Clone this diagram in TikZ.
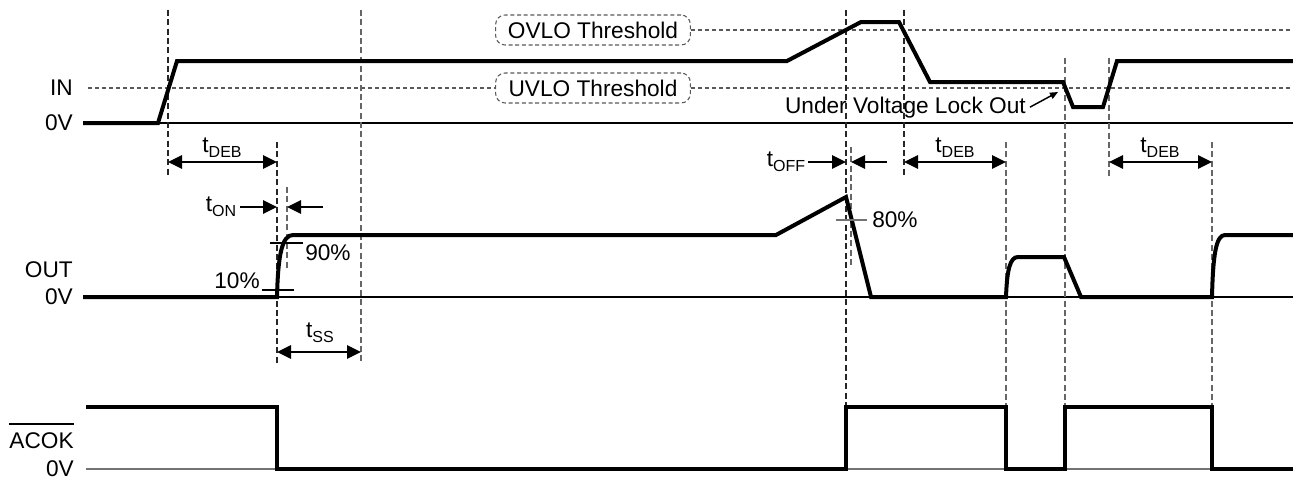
\documentclass[tikz,border=0pt]{standalone}
\usepackage{fontspec}
\setmainfont{Liberation Sans}
\usetikzlibrary{arrows.meta}
\newcommand{\lsub}[1]{\raisebox{-0.22em}{\fontsize{12}{12}\selectfont #1}}
\begin{document}
\begin{tikzpicture}[x=0.75pt,y=-0.75pt,
  font=\fontsize{17}{20}\selectfont,
  sig/.style={line width=3pt},
  baseline/.style={line width=0.9pt},
  vdash/.style={dash pattern=on 4.5pt off 2.5pt, line width=0.85pt, black!85},
  vgray/.style={dash pattern=on 4.5pt off 2.5pt, line width=0.85pt, black!60},
  hdash/.style={dash pattern=on 3pt off 2.25pt, line width=0.8pt, black!65},
  dimarrow/.style={line width=1.5pt, {Triangle[length=10.5pt,width=10pt]}-{Triangle[length=10.5pt,width=10pt]}},
  onearrow/.style={line width=1.5pt, -{Triangle[length=10.5pt,width=10pt]}},
  lbl/.style={inner sep=0pt},
  thr/.style={draw=black!65, dash pattern=on 3pt off 2pt, line width=0.8pt, rounded corners=7pt,
    minimum width=146pt, minimum height=22.5pt, inner sep=0pt},
  tick/.style={line width=0.9pt}]
\useasboundingbox (0,0) rectangle (1293,479);

% ---- labels on the left
\node[lbl, anchor=east] (inlbl) at (73,88) {IN};
\node[lbl, anchor=east] (in0v) at (73,123) {0V};
\node[lbl, anchor=east] (outlbl) at (73,270) {OUT};
\node[lbl, anchor=east] (out0v) at (73,297) {0V};
\node[lbl, anchor=east] (acok) at (74,441) {ACOK};
\draw[line width=0.9pt] ([yshift=6.5pt]acok.north west) -- ([yshift=6.5pt]acok.north east);
\node[lbl, anchor=east] (acok0v) at (74,469) {0V};

% ---- threshold boxes and lines
\node[thr] (ovlo) at (593,30) {OVLO Threshold};
\node[thr] (uvlo) at (593,88) {UVLO Threshold};
\coordinate (ovloR) at (1293,30);
\coordinate (uvloL) at (88,88);
\coordinate (uvloR) at (1293,88);
\draw[hdash] (ovlo.east) -- (ovloR);
\draw[hdash] (uvloL) -- (uvlo.west);
\draw[hdash] (uvlo.east) -- (uvloR);

% ---- zero lines
\draw[baseline] (83,123) -- (1293,123);
\draw[baseline] (83,297) -- (1293,297);
\draw[baseline, black!55] (86,469) -- (1293,469);

% ---- vertical dashed markers
\draw[vdash] (168,10) -- (168,177);
\draw[vdash] (277,142) -- (277,363);
\draw[vgray] (287,187) -- (287,268);
\draw[vgray] (361,10) -- (361,362);
\draw[vdash] (846,10) -- (846,407);
\draw[vgray] (851,147) -- (851,268);
\draw[vdash] (904,10) -- (904,177);
\draw[vgray] (1006,142) -- (1006,407);
\draw[vgray] (1065,58) -- (1065,407);
\draw[vgray] (1109,58) -- (1109,177);
\draw[vgray] (1212,142) -- (1212,407);

% ---- IN waveform
\draw[sig] (83,123) -- (158,123) -- (177,61) -- (787,61) -- (861,22) -- (899,22)
  -- (930,82) -- (1063,82) -- (1073,107) -- (1103,107) -- (1117,61) -- (1293,61);

% ---- OUT waveform
\draw[sig] (83,297) -- (277,297) .. controls (278,255) and (282,235) .. (293,235)
  -- (776,235) -- (846,197) -- (871,297) -- (1006,297)
  .. controls (1007,270) and (1010,257) .. (1018,257) -- (1064,257) -- (1081,297)
  -- (1212,297) .. controls (1213,255) and (1216,235) .. (1225,235) -- (1293,235);

% ---- ACOK waveform
\draw[sig] (86,407) -- (277,407) -- (277,469) -- (846,469) -- (846,407) -- (1006,407)
  -- (1006,469) -- (1065,469) -- (1065,407) -- (1212,407) -- (1212,469) -- (1293,469);

% ---- percentage ticks
\draw[tick] (270,243) -- (303,243);
\node[lbl, anchor=north west] (p90) at (305,244) {90\%};
\draw[tick] (262,290) -- (294,290);
\node[lbl, anchor=south east] (p10) at (260,289) {10\%};
\draw[tick, black!55] (836,220) -- (867,220);
\node[lbl, anchor=west] (p80) at (872,220) {80\%};

% ---- timing arrows
\draw[dimarrow] (168,162) -- (277,162);
\node[lbl] (tdeb1) at (222,148) {t\lsub{DEB}};
\draw[dimarrow] (904,162) -- (1006,162);
\node[lbl] (tdeb2) at (955,148) {t\lsub{DEB}};
\draw[dimarrow] (1109,162) -- (1212,162);
\node[lbl] (tdeb3) at (1160,148) {t\lsub{DEB}};

\node[lbl] (toff) at (786,162) {t\lsub{OFF}};
\draw[onearrow] (808,162) -- (846,162);
\draw[onearrow] (887,162) -- (851,162);

\node[lbl] (ton) at (221,207) {t\lsub{ON}};
\draw[onearrow] (240,207) -- (277,207);
\draw[onearrow] (323,207) -- (287,207);

\draw[dimarrow] (277,352) -- (361,352);
\node[lbl] (tss) at (320,333) {t\lsub{SS}};

% ---- UVLO annotation
\node[lbl, anchor=base east] (uvlotxt) at (1026,113) {Under Voltage Lock Out};
\coordinate (uvlotip) at (1058,92);
\draw[line width=1.1pt, -{Triangle[length=6pt,width=5pt]}] ([xshift=3pt]uvlotxt.east) -- (uvlotip);
\end{tikzpicture}
\end{document}
